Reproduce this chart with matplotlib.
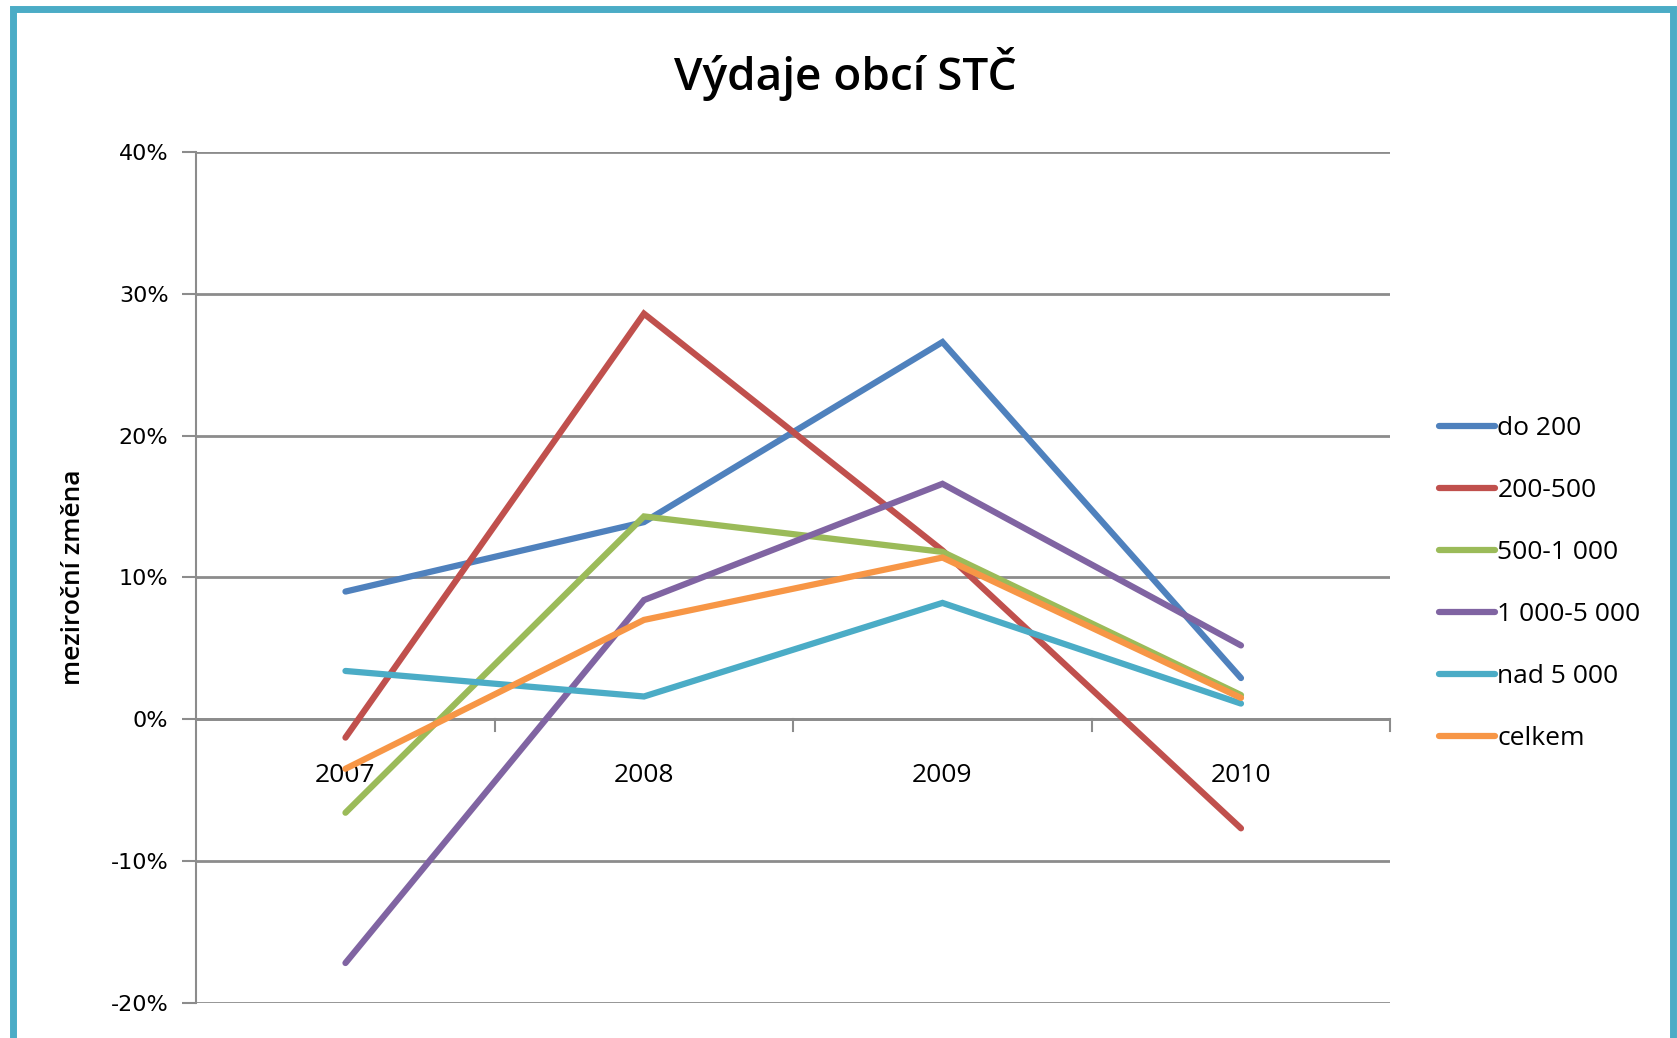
import numpy as np
import matplotlib.pyplot as plt
from matplotlib.patches import Rectangle

years = ["2007", "2008", "2009", "2010"]
series_names = ["do 200", "200-500", "500-1 000", "1 000-5 000", "nad 5 000", "celkem"]
do_200 = [9.0, 13.9, 26.6, 2.9]
s_200_500 = [-1.3, 28.6, 11.9, -7.7]
s_500_1000 = [-6.6, 14.3, 11.8, 1.7]
s_1000_5000 = [-17.2, 8.4, 16.6, 5.2]
nad_5000 = [3.4, 1.6, 8.2, 1.1]
celkem = [-3.5, 7.0, 11.4, 1.5]
y_ticks = [-20, -10, 0, 10, 20, 30, 40]

colors = ["#4F81BD", "#C0504D", "#9BBB59", "#8064A2", "#4BACC6", "#F79646"]
all_series = [do_200, s_200_500, s_500_1000, s_1000_5000, nad_5000, celkem]

plt.rcParams["font.family"] = ["Open Sans", "DejaVu Sans"]

fig = plt.figure(figsize=(16.77, 10.38), dpi=100)
# teal frame like the Excel chart area
fig.patches.append(Rectangle((0.0075, -0.05), 0.99, 1.041, transform=fig.transFigure,
                             fill=False, edgecolor="#4BACC6", linewidth=5, zorder=0))

ax = fig.add_axes([0.117, 0.034, 0.712, 0.8195])
x = np.arange(len(years))
for name, vals, c in zip(series_names, all_series, colors):
    ax.plot(x, vals, color=c, linewidth=4.5, label=name, solid_capstyle="round",
            solid_joinstyle="miter", zorder=3)

ax.set_xlim(-0.5, 3.5)
ax.set_ylim(-20, 40)
ax.set_yticks(y_ticks)
ax.set_yticklabels([f"{t}%" for t in y_ticks], fontsize=16, family="DejaVu Sans")
ax.yaxis.grid(True, color="#8c8c8c", linewidth=2)
ax.set_axisbelow(True)
ax.tick_params(axis="y", length=10, width=1.5, color="#8c8c8c", pad=10)

for s in ["top", "right", "bottom"]:
    ax.spines[s].set_visible(False)
ax.spines["left"].set_color("#8c8c8c")
ax.spines["left"].set_linewidth(1.5)

# category axis drawn at 0 with ticks between categories
ax.set_xticks([])
ax.axhline(0, color="#8c8c8c", linewidth=2, zorder=1)
for b in [0.5, 1.5, 2.5, 3.5]:
    ax.plot([b, b], [0, -0.8], color="#8c8c8c", linewidth=1.5, clip_on=False, zorder=1)
for xi, yr in zip(x, years):
    ax.text(xi, -4.0, yr, ha="center", va="center", fontsize=19, zorder=2)

ax.set_ylabel("meziroční změna", fontsize=19, fontweight="semibold", labelpad=18)

fig.text(0.504, 0.929, "Výdaje obcí STČ", ha="center", va="center", fontsize=33,
         fontweight="semibold")

ax.legend(loc="upper left", bbox_to_anchor=(0.852, 0.609), bbox_transform=fig.transFigure,
          frameon=False, fontsize=19, handlelength=2.1, handletextpad=0.1,
          labelspacing=1.4, borderaxespad=0)

fig.savefig("out.png", dpi=100)
